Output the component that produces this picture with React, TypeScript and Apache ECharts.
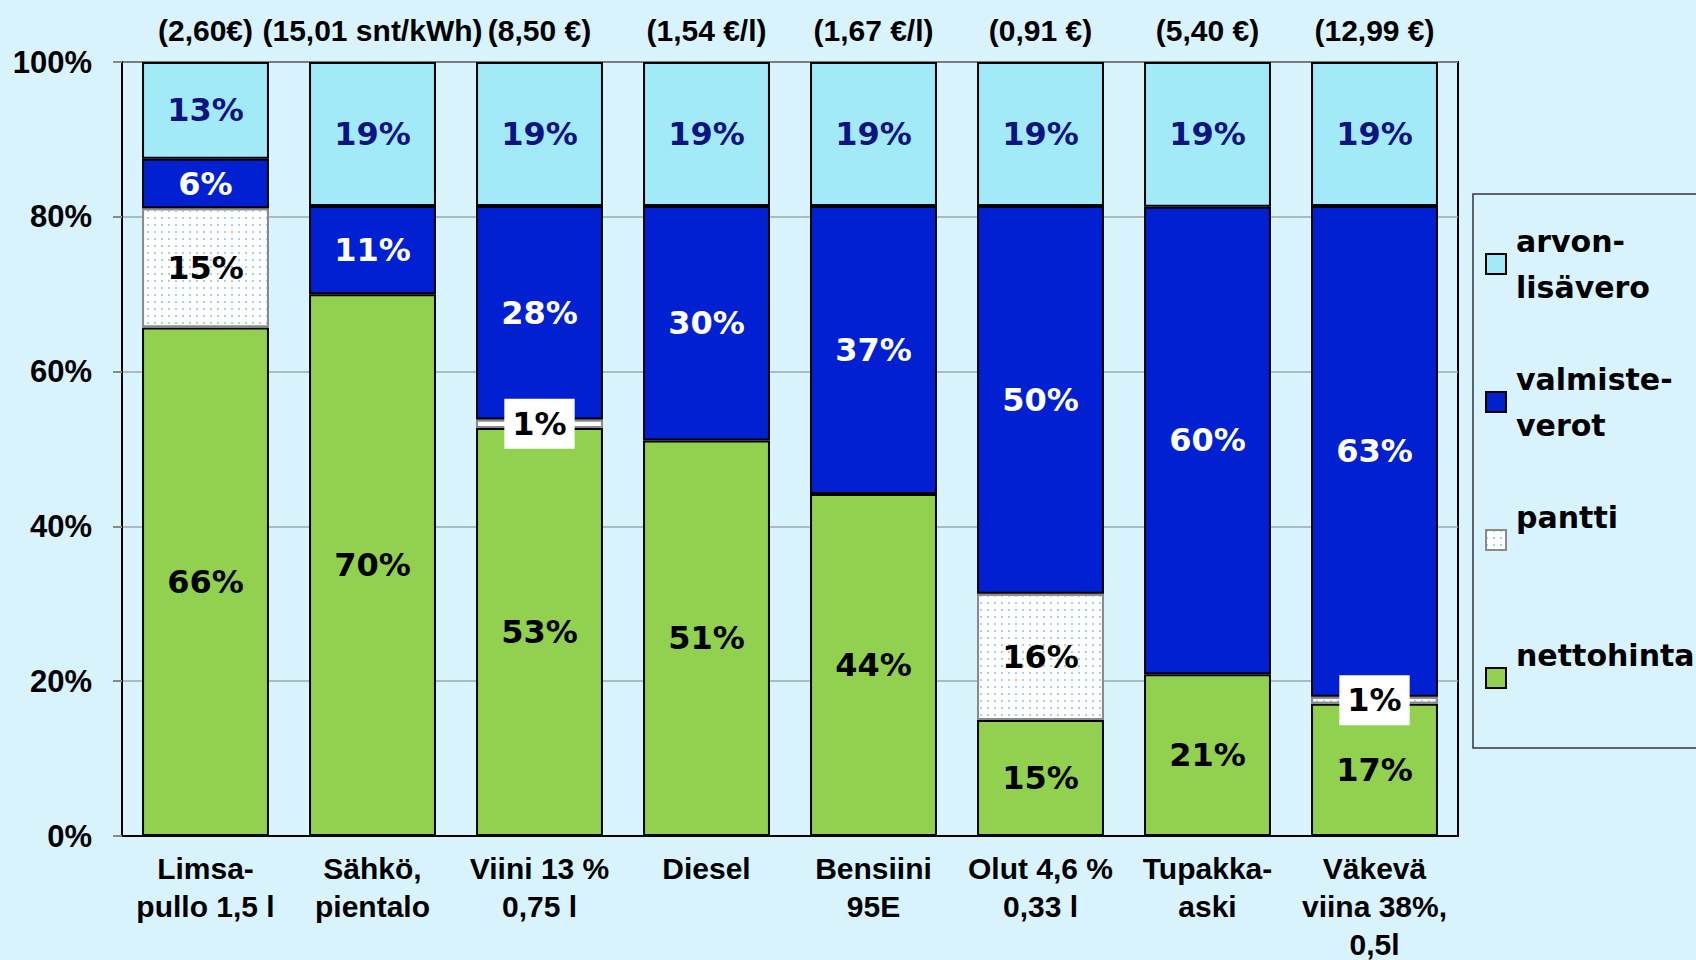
import React, { useEffect, useRef } from "react";
import * as echarts from "echarts";

const categories = [
  "Limsa-\npullo 1,5 l",
  "Sähkö,\npientalo",
  "Viini 13 %\n0,75 l",
  "Diesel",
  "Bensiini\n95E",
  "Olut 4,6 %\n0,33 l",
  "Tupakka-\naski",
  "Väkevä\nviina 38%,\n0,5l",
];
const prices = [
  "(2,60€)",
  "(15,01 snt/kWh)",
  "(8,50 €)",
  "(1,54 €/l)",
  "(1,67 €/l)",
  "(0,91 €)",
  "(5,40 €)",
  "(12,99 €)",
];
const nettohinta = [65.7, 70.0, 52.7, 51.1, 44.2, 15.0, 20.9, 17.1];
const pantti = [15.4, null, 1.1, null, null, 16.3, null, 0.9];
const valmisteverot = [6.4, 11.4, 27.6, 30.3, 37.2, 50.1, 60.4, 63.4];
const arvonlisavero = [12.5, 18.6, 18.6, 18.6, 18.6, 18.6, 18.7, 18.6];
const yTicks = [0, 20, 40, 60, 80, 100];

const NAME_ALV = "arvon-\nlisävero";
const NAME_VAL = "valmiste-\nverot";
const NAME_PANT = "pantti";
const NAME_NET = "nettohinta";

const BG = "#d9f3fd";
const AXIS_FONT = "'Liberation Sans', Arial, sans-serif";
const DATA_FONT = "'DejaVu Sans', Verdana, sans-serif";

export default function App() {
  const ref = useRef<HTMLDivElement>(null);
  useEffect(() => {
    if (!ref.current) return;
    const chart = echarts.init(ref.current, undefined, { renderer: "svg" });
    const labelBase = {
      show: true,
      position: "inside",
      fontFamily: DATA_FONT,
      fontWeight: "bold",
      fontSize: 32,
      formatter: (p: any) =>
        p.value == null || p.value === "-" ? "" : Math.round(p.value) + "%",
    };
    const border = { borderColor: "#000", borderWidth: 2 };
    const option: any = {
      animation: false,
      backgroundColor: BG,
      grid: {
        left: 122,
        right: 238,
        top: 62,
        bottom: 124,
        outerBoundsMode: "none",
        containLabel: false,
        show: true,
        borderColor: "#000",
        borderWidth: 2,
        backgroundColor: "transparent",
      },
      legend: {
        orient: "vertical",
        left: 1485,
        top: 195,
        itemGap: 0,
        padding: 0,
        itemWidth: 20,
        itemHeight: 20,
        icon: "rect",
        data: [NAME_ALV, NAME_VAL, NAME_PANT, NAME_NET],
        formatter: (name: string) => (name.includes("\n") ? name : name + "\n "),
        textStyle: {
          fontFamily: DATA_FONT,
          fontWeight: "bold",
          fontSize: 30,
          color: "#000",
          lineHeight: 46,
          padding: [46, 0, 0, 5],
          backgroundColor: "transparent",
        },
      },
      graphic: [
        {
          type: "rect",
          x: 1473,
          y: 194,
          shape: { x: 0, y: 0, width: 260, height: 554 },
          style: { fill: "none", stroke: "#333", lineWidth: 1.5 },
          silent: true,
        },
      ],
      xAxis: [
        {
          type: "category",
          data: categories,
          position: "bottom",
          axisLine: { lineStyle: { color: "#000", width: 2 } },
          axisTick: { show: false },
          axisLabel: {
            interval: 0,
            margin: 13,
            color: "#000",
            fontFamily: AXIS_FONT,
            fontWeight: "bold",
            fontSize: 30,
            lineHeight: 38,
          },
        },
        {
          type: "category",
          data: prices,
          position: "top",
          axisLine: { show: false },
          axisTick: { show: false },
          axisLabel: {
            interval: 0,
            margin: 17,
            color: "#000",
            fontFamily: AXIS_FONT,
            fontWeight: "bold",
            fontSize: 30,
          },
        },
      ],
      yAxis: {
        type: "value",
        min: yTicks[0],
        max: yTicks[yTicks.length - 1],
        interval: 20,
        axisLine: { show: true, lineStyle: { color: "#000", width: 2 } },
        axisTick: { show: true, length: 9, lineStyle: { color: "#888", width: 2 } },
        splitLine: { lineStyle: { color: "#9ba8ae", width: 1.5 } },
        axisLabel: {
          margin: 30,
          color: "#000",
          fontFamily: AXIS_FONT,
          fontWeight: "bold",
          fontSize: 31,
          formatter: "{value}%",
        },
      },
      series: [
        {
          name: NAME_NET,
          type: "bar",
          stack: "total",
          barCategoryGap: "24%",
          data: nettohinta,
          itemStyle: { color: "#92d050", ...border },
          label: { ...labelBase, color: "#000" },
        },
        {
          name: NAME_PANT,
          type: "bar",
          stack: "total",
          barCategoryGap: "24%",
          data: pantti.map((v) =>
            v == null
              ? "-"
              : v < 3
              ? {
                  value: v,
                  label: {
                    backgroundColor: "#fff",
                    padding: [10, 8, 8, 8],
                  },
                }
              : v
          ),
          itemStyle: {
            color: "#ffffff",
            borderColor: "#8a8a8a",
            borderWidth: 2,
            decal: {
              symbol: "rect",
              symbolSize: 1,
              color: "#a6d3df",
              dashArrayX: [2, 5],
              dashArrayY: [2, 5],
              rotation: 0,
            },
          },
          label: { ...labelBase, color: "#000" },
        },
        {
          name: NAME_VAL,
          type: "bar",
          stack: "total",
          barCategoryGap: "24%",
          data: valmisteverot,
          itemStyle: { color: "#0020d2", ...border },
          label: { ...labelBase, color: "#fff" },
        },
        {
          name: NAME_ALV,
          type: "bar",
          stack: "total",
          barCategoryGap: "24%",
          data: arvonlisavero,
          itemStyle: { color: "#a3eaf8", ...border },
          label: { ...labelBase, color: "#0d1480" },
        },
      ],
    };
    chart.setOption(option);
    return () => chart.dispose();
  }, []);
  return (
    <div
      ref={ref}
      style={{ position: "fixed", left: 0, top: 0, width: 1696, height: 960, background: BG }}
    />
  );
}
